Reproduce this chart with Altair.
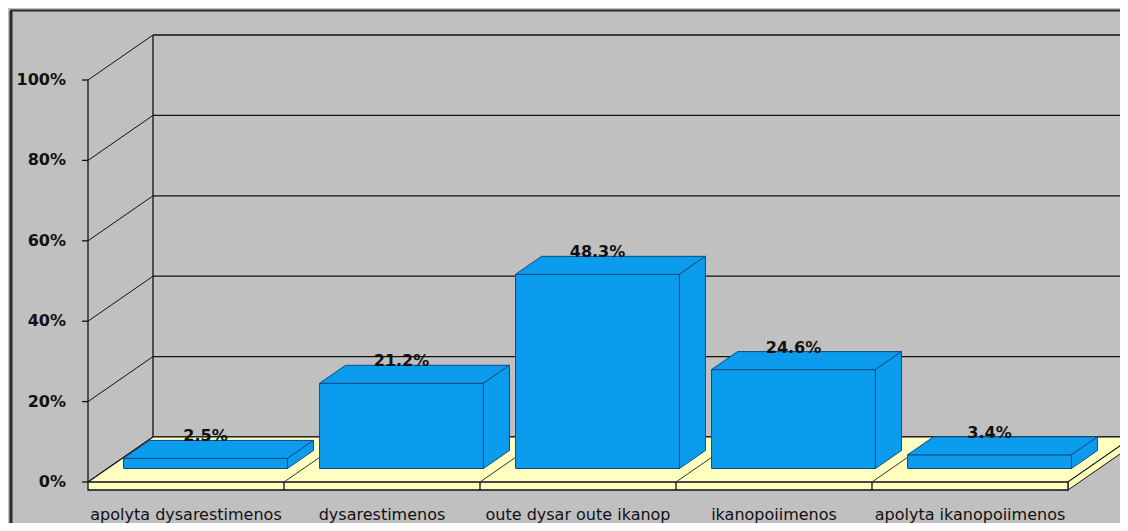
import altair as alt
import pandas as pd

# ---------------- data ----------------
categories = ["apolyta dysarestimenos", "dysarestimenos", "oute dysar oute ikanop",
              "ikanopoiimenos", "apolyta ikanopoiimenos"]
values = [2.5, 21.2, 48.3, 24.6, 3.4]
value_labels = ["2.5%", "21.2%", "48.3%", "24.6%", "3.4%"]
tick_values = [0, 20, 40, 60, 80, 100]
tick_labels = ["0%", "20%", "40%", "60%", "80%", "100%"]

# ---------------- geometry (style) ----------------
PX_PER_CAT = 196.0
PX_PER_PCT = 4.02
DX = 65 / PX_PER_CAT          # depth shift in category units
DY = 45 / PX_PER_PCT          # depth shift in percent units
FLOOR_T = 8 / PX_PER_PCT
HW = 0.418
D0, D1 = 0.3, 0.7
W, H = 1032, 470
XMAX = W / PX_PER_CAT
XEDGE = (W + 8) / PX_PER_CAT
YTOP = 452 / PX_PER_PCT
YMIN = YTOP - H / PX_PER_PCT
N = len(categories)

GRAY = "#C0C0C0"
YELLOW = "#FFFFC0"
BLUE = "#0C9CEE"
BLUE_EDGE = "#0A4C86"
INK = "#111111"

xs = alt.Scale(domain=[0, XMAX], nice=False, zero=False)
ys = alt.Scale(domain=[YMIN, YTOP], nice=False, zero=False)
X = lambda f: alt.X(f, type="quantitative", scale=xs, axis=None)
Y = lambda f: alt.Y(f, type="quantitative", scale=ys, axis=None)


def poly_rows(name, pts):
    pts = list(pts) + [pts[0]]
    return [{"poly": name, "ord": k, "x": px, "y": py} for k, (px, py) in enumerate(pts)]


def polys(rows, fill, stroke, sw=1):
    return alt.Chart(pd.DataFrame(rows)).mark_line(
        fill=fill, stroke=stroke, strokeWidth=sw, interpolate="linear"
    ).encode(x=X("x"), y=Y("y"), detail="poly:N", order="ord:Q")


def rules(df, color=INK, sw=1):
    return alt.Chart(df).mark_rule(color=color, strokeWidth=sw).encode(
        x=X("x"), x2="x2:Q", y=Y("y"), y2="y2:Q")


# back wall gridlines, wall edge and side diagonals
grid_df = pd.DataFrame({"x": [DX] * len(tick_values), "x2": [XEDGE] * len(tick_values),
                        "y": [t + DY for t in tick_values], "y2": [t + DY for t in tick_values]})
wall_df = pd.DataFrame({"x": [DX, 0], "x2": [DX, 0], "y": [DY, 0], "y2": [100 + DY, 100]})
diag_df = pd.DataFrame({"x": [0] * len(tick_values), "x2": [DX] * len(tick_values),
                        "y": tick_values, "y2": [t + DY for t in tick_values]})

# floor
floor_area_df = pd.DataFrame({"x": [0, DX, N, N + DX],
                              "ylo": [0, 0, 0, DY],
                              "yhi": [0, DY, DY, DY]})
floor_edges_df = pd.DataFrame({"x": [0, N, DX], "x2": [DX, N + DX, XEDGE],
                               "y": [0, 0, DY], "y2": [DY, DY, DY]})
floor_side = poly_rows("fs", [(N, 0), (N + DX, DY), (N + DX, DY - FLOOR_T), (N, -FLOOR_T)])
floor_front = poly_rows("ff", [(0, 0), (N, 0), (N, -FLOOR_T), (0, -FLOOR_T)])
sep_df = pd.DataFrame({"x": list(range(1, N)), "x2": list(range(1, N)),
                       "y": [-FLOOR_T] * (N - 1), "y2": [0] * (N - 1)})
floor_diag_df = pd.DataFrame({"x": list(range(1, N)), "x2": [k + DX for k in range(1, N)],
                              "y": [0] * (N - 1), "y2": [DY] * (N - 1)})

# bars
front_rows, face_rows, lab_rows = [], [], []
ddx, ddy = (D1 - D0) * DX, (D1 - D0) * DY
for i, (c, v, lab) in enumerate(zip(categories, values, value_labels)):
    L = i + 0.5 - HW + D0 * DX
    R = i + 0.5 + HW + D0 * DX
    B = D0 * DY
    T = B + v
    front_rows.append({"x": L, "x2": R, "y": B, "y2": T})
    face_rows += poly_rows(f"t{i}", [(L, T), (R, T), (R + ddx, T + ddy), (L + ddx, T + ddy)])
    face_rows += poly_rows(f"s{i}", [(R, B), (R + ddx, B + ddy), (R + ddx, T + ddy), (R, T)])
    lab_rows.append({"x": i + 0.5 + D0 * DX, "y": T + ddy, "label": lab})

front_df = pd.DataFrame(front_rows)
lab_df = pd.DataFrame(lab_rows)
cat_df = pd.DataFrame({"x": [i + 0.5 for i in range(N)], "y": [-8.2] * N, "label": categories})
tick_df = pd.DataFrame({"y": tick_values, "label": tick_labels})

layers = [
    rules(grid_df, sw=1.3),
    rules(wall_df, sw=1.3),
    rules(diag_df, sw=1),
    alt.Chart(floor_area_df).mark_area(color=YELLOW, opacity=1, interpolate="linear").encode(
        x=X("x"), y=Y("ylo"), y2="yhi:Q"),
    rules(floor_edges_df, sw=1.2),
    polys(floor_side, YELLOW, INK, 1),
    polys(floor_front, YELLOW, INK, 1.3),
    rules(sep_df, sw=1.3),
    rules(floor_diag_df, color="#333333", sw=1),
    alt.Chart(front_df).mark_rect(fill=BLUE, stroke=BLUE_EDGE, strokeWidth=1).encode(
        x=X("x"), x2="x2:Q", y=Y("y"), y2="y2:Q"),
    polys(face_rows, BLUE, BLUE_EDGE, 1),
    alt.Chart(lab_df).mark_text(font="DejaVu Sans", fontSize=16, fontWeight="bold",
                                color=INK, baseline="middle", dy=-4).encode(
        x=X("x"), y=Y("y"), text="label:N"),
    alt.Chart(cat_df).mark_text(font="DejaVu Sans", fontSize=16, color=INK,
                                baseline="middle").encode(
        x=X("x"), y=Y("y"), text="label:N"),
    alt.Chart(tick_df).mark_rule(color=INK, strokeWidth=1.3).encode(
        y=Y("y"), x=alt.value(-6), x2=alt.value(0)),
    alt.Chart(tick_df).mark_text(font="DejaVu Sans", fontSize=16, fontWeight="bold",
                                 color=INK, align="right", baseline="middle").encode(
        y=Y("y"), x=alt.value(-22), text="label:N"),
    alt.Chart(tick_df.head(1)).mark_rule(color="#2a2a2a", strokeWidth=3).encode(
        x=alt.value(-77), y=alt.value(-19), y2=alt.value(495)),
    alt.Chart(tick_df.head(1)).mark_rule(color="#2a2a2a", strokeWidth=2).encode(
        y=alt.value(-19.5), x=alt.value(-78), x2=alt.value(W + 8)),
]

chart = alt.layer(*layers).properties(
    width=W, height=H,
    background=GRAY,
    padding={"left": 80, "top": 22, "right": 0, "bottom": 23},
    autosize=alt.AutoSizeParams(type="none"),
).configure_view(strokeWidth=0)

chart.save("out.html", embed_options={"renderer": "svg", "actions": False})
